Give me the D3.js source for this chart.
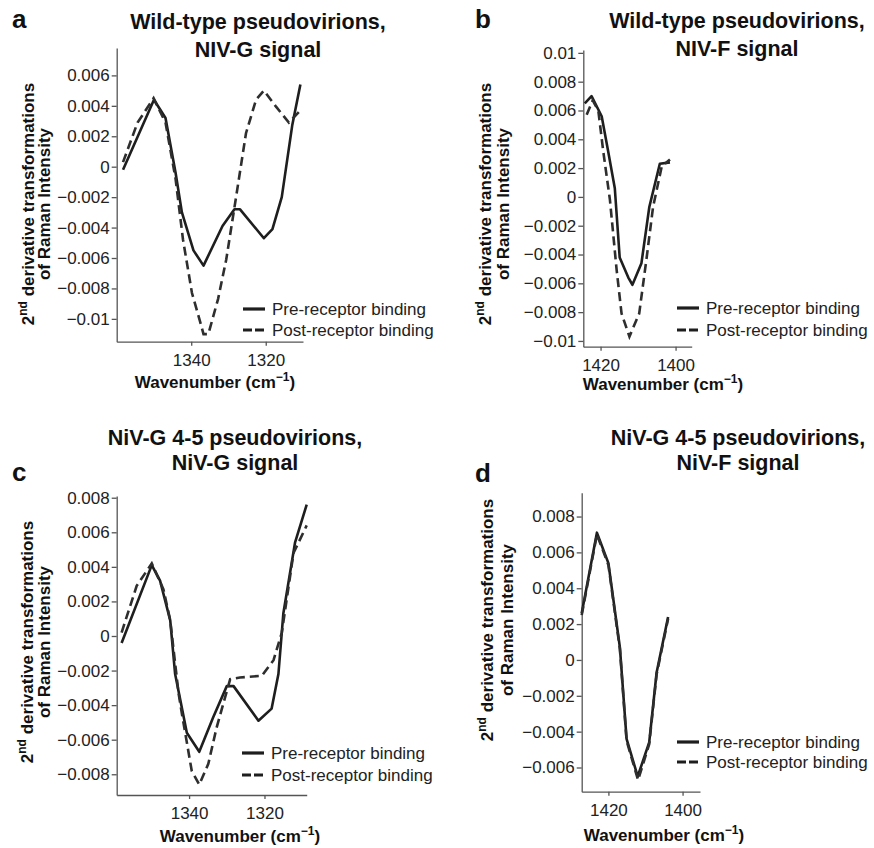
<!DOCTYPE html>
<html>
<head>
<meta charset="utf-8">
<script src="https://cdn.jsdelivr.net/npm/d3@7"></script>
<style>
  body { margin: 0; background: #fff; }
  svg { display: block; font-family: "Liberation Sans", Arial, Helvetica, sans-serif; }
  .axis path, .axis line { stroke: #555; stroke-width: 1.3; }
  .axis text { fill: #222; font-size: 17px; font-family: "Liberation Sans", Arial, sans-serif; }
</style>
</head>
<body>
<svg id="fig" width="874" height="848"></svg>
<script>
// Second-derivative Raman spectra, [wavenumber (cm^-1), value] pairs.

// a: wild-type pseudovirions, NiV-G signal
const wtG_pre = [[1358.3,-0.0002],[1350,0.0044],[1346.9,0.0032],[1344.2,-0.0004],[1342.5,-0.003],[1339.4,-0.0055],[1336.7,-0.0065],[1331.6,-0.0039],[1328.4,-0.0028],[1326.9,-0.0028],[1320.5,-0.0047],[1318.2,-0.0041],[1315.7,-0.002],[1312.9,0.0027],[1310.7,0.0054]];
const wtG_post = [[1358.3,0.0003],[1354.4,0.0029],[1350.1,0.0045],[1346.9,0.0029],[1344.2,-0.0008],[1342.2,-0.0048],[1339.8,-0.0083],[1337.6,-0.0102],[1336.7,-0.011],[1335.4,-0.011],[1332.8,-0.0087],[1330.6,-0.0061],[1327.9,-0.0019],[1325.3,0.0022],[1322.6,0.0044],[1320.5,0.005],[1317.4,0.004],[1313.8,0.0029],[1310.7,0.0037]];

// b: wild-type pseudovirions, NiV-F signal
const wtF_pre = [[1424.2,0.0065],[1422.4,0.007],[1419.7,0.0056],[1418,0.0032],[1416.2,0.0006],[1414.9,-0.0042],[1412.6,-0.0056],[1411.5,-0.0061],[1409.1,-0.0046],[1407,-0.0007],[1404.2,0.0023],[1401.5,0.0024]];
const wtF_post = [[1423.7,0.0057],[1422.1,0.0067],[1420.6,0.006],[1419.3,0.0032],[1417.5,-0.0002],[1415.7,-0.0051],[1414.4,-0.0081],[1412.3,-0.0097],[1409.7,-0.0081],[1407.7,-0.0042],[1406,-0.0007],[1403.7,0.0021],[1401.5,0.0026]];

// c: NiV-G 4-5 pseudovirions, NiV-G signal
const mutG_pre = [[1357.9,-0.0004],[1349.9,0.0041],[1347.7,0.0032],[1345,0.0009],[1343.7,-0.0022],[1340.6,-0.0056],[1337.3,-0.0067],[1333.6,-0.0047],[1330,-0.0029],[1328.2,-0.0029],[1321.6,-0.0049],[1318.1,-0.0042],[1316.3,-0.0022],[1315,0.0013],[1311.9,0.0054],[1308.8,0.0076]];
const mutG_post = [[1357.9,0.0002],[1353.9,0.0029],[1349.9,0.0042],[1346.8,0.0027],[1345,0.0009],[1342.8,-0.0033],[1341.9,-0.0045],[1339.3,-0.0078],[1337.3,-0.0086],[1334.9,-0.0074],[1332.7,-0.0053],[1329.1,-0.0025],[1326.5,-0.0024],[1320.7,-0.0023],[1317.6,-0.0014],[1315.4,0.0002],[1312.3,0.0048],[1308.8,0.0064]];

// d: NiV-G 4-5 pseudovirions, NiV-F signal
const mutF_pre = [[1427.2,0.0026],[1423.1,0.0071],[1420,0.0054],[1416.9,0.0007],[1415.1,-0.0044],[1412.1,-0.0065],[1409,-0.0046],[1407,-0.0007],[1403.9,0.0024]];
const mutF_post = [[1427.2,0.0025],[1423.1,0.007],[1420,0.0053],[1416.9,0.0006],[1415.1,-0.0045],[1412,-0.0067],[1409,-0.0047],[1407,-0.0008],[1403.9,0.0023]];

// Tick values
const yTicksA = [-0.01,-0.008,-0.006,-0.004,-0.002,0,0.002,0.004,0.006];
const yTicksB = [-0.01,-0.008,-0.006,-0.004,-0.002,0,0.002,0.004,0.006,0.008,0.01];
const yTicksC = [-0.008,-0.006,-0.004,-0.002,0,0.002,0.004,0.006,0.008];
const yTicksD = [-0.006,-0.004,-0.002,0,0.002,0.004,0.006,0.008];
const xTicksG = [1340, 1320];
const xTicksF = [1420, 1400];

const titles = {
  a: ["Wild-type pseudovirions,", "NIV-G signal"],
  b: ["Wild-type pseudovirions,", "NIV-F signal"],
  c: ["NiV-G 4-5 pseudovirions,", "NiV-G signal"],
  d: ["NiV-G 4-5 pseudovirions,", "NiV-F signal"]
};
const seriesNames = ["Pre-receptor binding", "Post-receptor binding"];

// Panel layout
const panels = [
  { id: "a", pre: wtG_pre, post: wtG_post, yTicks: yTicksA, xTicks: xTicksG,
    box: [116.7, 48, 303, 341.7], xDom: [1360, 1310], yDom: [-0.0115, 0.0078],
    letter: [12, 28], title: [258, 29, 56.5], ylab: [34, 50, 204],
    xlab: [215, 388], legend: [243, 309, 330] },
  { id: "b", pre: wtF_pre, post: wtF_post, yTicks: yTicksB, xTicks: xTicksF,
    box: [583.3, 50, 691.7, 346.7], xDom: [1424.6, 1395.7], yDom: [-0.0104, 0.0102],
    letter: [475, 28], title: [737, 28, 56], ylab: [491, 509, 204],
    xlab: [663, 390], legend: [677, 308, 330] },
  { id: "c", pre: mutG_pre, post: mutG_post, yTicks: yTicksC, xTicks: xTicksG,
    box: [116.7, 496, 306.7, 795], xDom: [1359.2, 1308.8], yDom: [-0.0092, 0.0081],
    letter: [12, 481], title: [235, 445, 470], ylab: [33, 50, 642],
    xlab: [240, 842], legend: [242, 753, 775] },
  { id: "d", pre: mutF_pre, post: mutF_post, yTicks: yTicksD, xTicks: xTicksF,
    box: [581.7, 492.7, 700, 791.7], xDom: [1427.2, 1395.3], yDom: [-0.00735, 0.00933],
    letter: [475, 482], title: [738, 445, 470], ylab: [493, 513, 620],
    xlab: [664, 841], legend: [677, 742, 762] }
];

const svg = d3.select("#fig");
const fmt = d => d === 0 ? "0" : String(+d.toFixed(3)).replace("-", "\u2212");

panels.forEach(p => {
  const [x0, y0, x1, y1] = p.box;
  const x = d3.scaleLinear().domain(p.xDom).range([x0, x1]);
  const y = d3.scaleLinear().domain(p.yDom).range([y1, y0]);
  const g = svg.append("g");

  // axes
  g.append("g").attr("class", "axis")
    .attr("transform", `translate(${x0},0)`)
    .call(d3.axisLeft(y).tickValues(p.yTicks).tickFormat(fmt)
      .tickSize(5).tickSizeOuter(0).tickPadding(2));
  g.append("g").attr("class", "axis")
    .attr("transform", `translate(0,${y1})`)
    .call(d3.axisBottom(x).tickValues(p.xTicks).tickFormat(d3.format("d"))
      .tickSize(4).tickSizeOuter(0).tickPadding(8));

  // spectra
  const line = d3.line().x(d => x(d[0])).y(d => y(d[1]));
  g.append("path").datum(p.pre).attr("d", line)
    .attr("fill", "none").attr("stroke", "#1e1e1e").attr("stroke-width", 2.6)
    .attr("stroke-linejoin", "round");
  g.append("path").datum(p.post).attr("d", line)
    .attr("fill", "none").attr("stroke", "#2e2e2e").attr("stroke-width", 2.6)
    .attr("stroke-dasharray", "9,5");

  // panel letter
  g.append("text").attr("x", p.letter[0]).attr("y", p.letter[1])
    .attr("font-size", 26).attr("font-weight", "bold").attr("fill", "#111").text(p.id);

  // title
  const t = titles[p.id];
  [1, 2].forEach(i => {
    g.append("text").attr("x", p.title[0]).attr("y", p.title[i])
      .attr("text-anchor", "middle").attr("font-size", 21.5).attr("font-weight", "bold")
      .attr("fill", "#111").text(t[i - 1]);
  });

  // y-axis label (two lines, rotated)
  const yl1 = g.append("text")
    .attr("transform", `translate(${p.ylab[0]},${p.ylab[2]}) rotate(-90)`)
    .attr("text-anchor", "middle").attr("font-size", 17).attr("font-weight", "bold").attr("fill", "#111");
  yl1.append("tspan").text("2");
  yl1.append("tspan").attr("font-size", 12).attr("dy", -7).text("nd");
  yl1.append("tspan").attr("dy", 7).text(" derivative transformations");
  g.append("text")
    .attr("transform", `translate(${p.ylab[1]},${p.ylab[2]}) rotate(-90)`)
    .attr("text-anchor", "middle").attr("font-size", 17).attr("font-weight", "bold").attr("fill", "#111")
    .text("of Raman Intensity");

  // x-axis label
  const xl = g.append("text").attr("x", p.xlab[0]).attr("y", p.xlab[1])
    .attr("text-anchor", "middle").attr("font-size", 17).attr("font-weight", "bold").attr("fill", "#111");
  xl.append("tspan").text("Wavenumber (cm");
  xl.append("tspan").attr("font-size", 12).attr("dy", -7).text("\u22121");
  xl.append("tspan").attr("dy", 7).text(")");

  // legend
  const [lx, ly1, ly2] = p.legend;
  [[ly1, null], [ly2, "9,3"]].forEach(([ly, dash], i) => {
    g.append("line").attr("x1", lx).attr("x2", lx + 22).attr("y1", ly).attr("y2", ly)
      .attr("stroke", "#1e1e1e").attr("stroke-width", 3.2).attr("stroke-dasharray", dash);
    g.append("text").attr("x", lx + 29).attr("y", ly).attr("dy", "0.35em")
      .attr("font-size", 17).attr("fill", "#222").text(seriesNames[i]);
  });
});
</script>
</body>
</html>
